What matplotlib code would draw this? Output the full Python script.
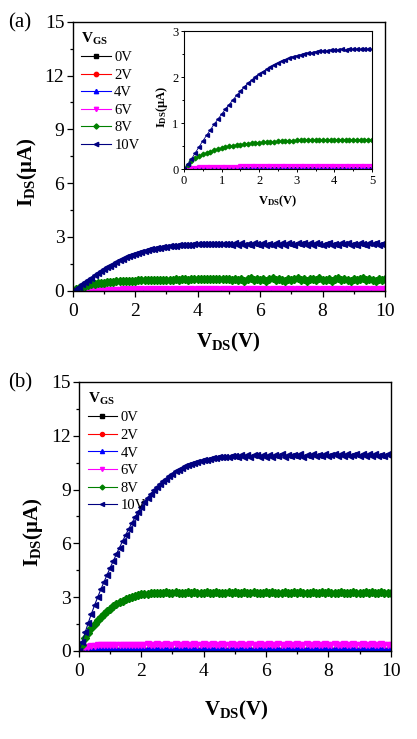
import matplotlib
matplotlib.use('Agg')
import matplotlib.pyplot as plt
from matplotlib.ticker import MultipleLocator

plt.rcParams['font.family'] = 'Liberation Serif'
plt.rcParams['mathtext.fontset'] = 'custom'
plt.rcParams['mathtext.rm'] = 'Liberation Serif'
plt.rcParams['mathtext.bf'] = 'Liberation Serif:bold'
plt.rcParams['mathtext.it'] = 'Liberation Serif:italic'

# drain voltage sweep (V)
vds = [0.0, 0.1, 0.2, 0.3, 0.4, 0.5, 0.6, 0.7, 0.8, 0.9,
       1.0, 1.1, 1.2, 1.3, 1.4, 1.5, 1.6, 1.7, 1.8, 1.9,
       2.0, 2.1, 2.2, 2.3, 2.4, 2.5, 2.6, 2.7, 2.8, 2.9,
       3.0, 3.1, 3.2, 3.3, 3.4, 3.5, 3.6, 3.7, 3.8, 3.9,
       4.0, 4.1, 4.2, 4.3, 4.4, 4.5, 4.6, 4.7, 4.8, 4.9,
       5.0, 5.1, 5.2, 5.3, 5.4, 5.5, 5.6, 5.7, 5.8, 5.9,
       6.0, 6.1, 6.2, 6.3, 6.4, 6.5, 6.6, 6.7, 6.8, 6.9,
       7.0, 7.1, 7.2, 7.3, 7.4, 7.5, 7.6, 7.7, 7.8, 7.9,
       8.0, 8.1, 8.2, 8.3, 8.4, 8.5, 8.6, 8.7, 8.8, 8.9,
       9.0, 9.1, 9.2, 9.3, 9.4, 9.5, 9.6, 9.7, 9.8, 9.9,
       10.0]

gate_labels = ['0V', '2V', '4V', '6V', '8V', '10V']
colors = ['#000000', '#FF0000', '#0000FF', '#FF00FF', '#008000', '#000080']
markers = ['s', 'o', '^', 'v', 'D', '<']

# ---- device (a), I_DS in uA ----
a_0v = [0.00, 0.00, 0.00, 0.00, 0.00, 0.00, 0.00, 0.00, 0.00, 0.00,
        0.00, 0.00, 0.00, 0.00, 0.00, 0.00, 0.00, 0.00, 0.00, 0.00,
        0.00, 0.00, 0.00, 0.00, 0.00, 0.00, 0.00, 0.00, 0.00, 0.00,
        0.00, 0.00, 0.00, 0.00, 0.00, 0.00, 0.00, 0.00, 0.00, 0.00,
        0.00, 0.00, 0.00, 0.00, 0.00, 0.00, 0.00, 0.00, 0.00, 0.00,
        0.00, 0.00, 0.00, 0.00, 0.00, 0.00, 0.00, 0.00, 0.00, 0.00,
        0.00, 0.00, 0.00, 0.00, 0.00, 0.00, 0.00, 0.00, 0.00, 0.00,
        0.00, 0.00, 0.00, 0.00, 0.00, 0.00, 0.00, 0.00, 0.00, 0.00,
        0.00, 0.00, 0.00, 0.00, 0.00, 0.00, 0.00, 0.00, 0.00, 0.00,
        0.00, 0.00, 0.00, 0.00, 0.00, 0.00, 0.00, 0.00, 0.00, 0.00,
        0.00]
a_2v = [0.00, 0.00, 0.01, 0.01, 0.01, 0.01, 0.01, 0.01, 0.01, 0.01,
        0.01, 0.01, 0.01, 0.01, 0.01, 0.01, 0.01, 0.01, 0.01, 0.01,
        0.01, 0.01, 0.01, 0.01, 0.01, 0.01, 0.01, 0.01, 0.01, 0.01,
        0.01, 0.01, 0.01, 0.01, 0.01, 0.01, 0.01, 0.01, 0.01, 0.01,
        0.01, 0.01, 0.01, 0.01, 0.01, 0.01, 0.01, 0.01, 0.01, 0.01,
        0.01, 0.01, 0.01, 0.01, 0.01, 0.01, 0.01, 0.01, 0.01, 0.01,
        0.01, 0.01, 0.01, 0.01, 0.01, 0.01, 0.01, 0.01, 0.01, 0.01,
        0.01, 0.01, 0.01, 0.01, 0.01, 0.01, 0.01, 0.01, 0.01, 0.01,
        0.01, 0.01, 0.01, 0.01, 0.01, 0.01, 0.01, 0.01, 0.01, 0.01,
        0.01, 0.01, 0.01, 0.01, 0.01, 0.01, 0.01, 0.01, 0.01, 0.01,
        0.01]
a_4v = [0.00, 0.01, 0.01, 0.02, 0.02, 0.02, 0.02, 0.02, 0.02, 0.02,
        0.02, 0.02, 0.02, 0.02, 0.02, 0.02, 0.02, 0.02, 0.02, 0.02,
        0.02, 0.02, 0.02, 0.02, 0.02, 0.02, 0.02, 0.02, 0.02, 0.02,
        0.02, 0.02, 0.02, 0.02, 0.02, 0.02, 0.02, 0.02, 0.02, 0.02,
        0.02, 0.02, 0.02, 0.02, 0.02, 0.02, 0.02, 0.02, 0.02, 0.02,
        0.02, 0.02, 0.02, 0.02, 0.02, 0.02, 0.02, 0.02, 0.02, 0.02,
        0.02, 0.02, 0.02, 0.02, 0.02, 0.02, 0.02, 0.02, 0.02, 0.02,
        0.02, 0.02, 0.02, 0.02, 0.02, 0.02, 0.02, 0.02, 0.02, 0.02,
        0.02, 0.02, 0.02, 0.02, 0.02, 0.02, 0.02, 0.02, 0.02, 0.02,
        0.02, 0.02, 0.02, 0.02, 0.02, 0.02, 0.02, 0.02, 0.02, 0.02,
        0.02]
a_6v = [0.00, 0.02, 0.03, 0.03, 0.04, 0.04, 0.04, 0.04, 0.04, 0.04,
        0.04, 0.04, 0.04, 0.04, 0.04, 0.06, 0.07, 0.06, 0.07, 0.06,
        0.07, 0.06, 0.07, 0.06, 0.07, 0.06, 0.07, 0.06, 0.07, 0.06,
        0.07, 0.06, 0.07, 0.06, 0.07, 0.06, 0.07, 0.06, 0.07, 0.06,
        0.07, 0.06, 0.07, 0.06, 0.07, 0.06, 0.07, 0.06, 0.07, 0.06,
        0.07, 0.06, 0.07, 0.06, 0.07, 0.06, 0.07, 0.06, 0.07, 0.06,
        0.07, 0.06, 0.07, 0.06, 0.07, 0.06, 0.07, 0.06, 0.07, 0.06,
        0.07, 0.06, 0.07, 0.06, 0.07, 0.06, 0.07, 0.06, 0.07, 0.06,
        0.07, 0.06, 0.07, 0.06, 0.07, 0.06, 0.07, 0.06, 0.07, 0.06,
        0.07, 0.06, 0.07, 0.06, 0.07, 0.06, 0.07, 0.06, 0.07, 0.06,
        0.07]
a_8v = [0.00, 0.09, 0.17, 0.23, 0.28, 0.32, 0.35, 0.38, 0.41, 0.43,
        0.45, 0.47, 0.49, 0.51, 0.52, 0.53, 0.54, 0.55, 0.56, 0.57,
        0.57, 0.58, 0.58, 0.59, 0.59, 0.60, 0.60, 0.61, 0.61, 0.61,
        0.62, 0.62, 0.62, 0.63, 0.62, 0.63, 0.63, 0.62, 0.63, 0.63,
        0.63, 0.63, 0.64, 0.63, 0.63, 0.64, 0.63, 0.64, 0.64, 0.63,
        0.64, 0.58, 0.68, 0.60, 0.66, 0.57, 0.65, 0.69, 0.58, 0.66,
        0.60, 0.68, 0.57, 0.64, 0.69, 0.59, 0.66, 0.61, 0.57, 0.68,
        0.60, 0.65, 0.69, 0.58, 0.66, 0.57, 0.63, 0.68, 0.60, 0.69,
        0.62, 0.58, 0.66, 0.57, 0.65, 0.69, 0.60, 0.67, 0.62, 0.57,
        0.68, 0.60, 0.65, 0.69, 0.58, 0.66, 0.62, 0.57, 0.68, 0.61,
        0.64]
a_10v = [0.00, 0.10, 0.22, 0.35, 0.48, 0.61, 0.73, 0.85, 0.97, 1.08,
         1.19, 1.30, 1.40, 1.50, 1.60, 1.69, 1.78, 1.86, 1.93, 2.00,
         2.06, 2.12, 2.17, 2.22, 2.27, 2.31, 2.35, 2.38, 2.41, 2.44,
         2.46, 2.48, 2.50, 2.52, 2.53, 2.55, 2.56, 2.57, 2.57, 2.58,
         2.59, 2.59, 2.60, 2.59, 2.60, 2.60, 2.61, 2.60, 2.60, 2.61,
         2.60, 2.55, 2.65, 2.57, 2.66, 2.56, 2.63, 2.54, 2.65, 2.59,
         2.56, 2.66, 2.55, 2.63, 2.57, 2.67, 2.56, 2.64, 2.54, 2.65,
         2.60, 2.55, 2.66, 2.58, 2.64, 2.54, 2.65, 2.57, 2.66, 2.60,
         2.55, 2.63, 2.67, 2.56, 2.62, 2.54, 2.65, 2.58, 2.66, 2.55,
         2.63, 2.56, 2.66, 2.60, 2.54, 2.65, 2.58, 2.64, 2.55, 2.62,
         2.60]

# ---- device (b), I_DS in uA ----
b_0v = [0.00, 0.00, 0.00, 0.00, 0.00, 0.00, 0.00, 0.00, 0.00, 0.00,
        0.00, 0.00, 0.00, 0.00, 0.00, 0.00, 0.00, 0.00, 0.00, 0.00,
        0.00, 0.00, 0.00, 0.00, 0.00, 0.00, 0.00, 0.00, 0.00, 0.00,
        0.00, 0.00, 0.00, 0.00, 0.00, 0.00, 0.00, 0.00, 0.00, 0.00,
        0.00, 0.00, 0.00, 0.00, 0.00, 0.00, 0.00, 0.00, 0.00, 0.00,
        0.00, 0.00, 0.00, 0.00, 0.00, 0.00, 0.00, 0.00, 0.00, 0.00,
        0.00, 0.00, 0.00, 0.00, 0.00, 0.00, 0.00, 0.00, 0.00, 0.00,
        0.00, 0.00, 0.00, 0.00, 0.00, 0.00, 0.00, 0.00, 0.00, 0.00,
        0.00, 0.00, 0.00, 0.00, 0.00, 0.00, 0.00, 0.00, 0.00, 0.00,
        0.00, 0.00, 0.00, 0.00, 0.00, 0.00, 0.00, 0.00, 0.00, 0.00,
        0.00]
b_2v = [0.00, 0.01, 0.02, 0.02, 0.02, 0.02, 0.02, 0.02, 0.02, 0.02,
        0.02, 0.02, 0.02, 0.02, 0.02, 0.02, 0.02, 0.02, 0.02, 0.02,
        0.02, 0.02, 0.02, 0.02, 0.02, 0.02, 0.02, 0.02, 0.02, 0.02,
        0.02, 0.02, 0.02, 0.02, 0.02, 0.02, 0.02, 0.02, 0.02, 0.02,
        0.02, 0.02, 0.02, 0.02, 0.02, 0.02, 0.02, 0.02, 0.02, 0.02,
        0.02, 0.02, 0.02, 0.02, 0.02, 0.02, 0.02, 0.02, 0.02, 0.02,
        0.02, 0.02, 0.02, 0.02, 0.02, 0.02, 0.02, 0.02, 0.02, 0.02,
        0.02, 0.02, 0.02, 0.02, 0.02, 0.02, 0.02, 0.02, 0.02, 0.02,
        0.02, 0.02, 0.02, 0.02, 0.02, 0.02, 0.02, 0.02, 0.02, 0.02,
        0.02, 0.02, 0.02, 0.02, 0.02, 0.02, 0.02, 0.02, 0.02, 0.02,
        0.02]
b_4v = [0.00, 0.05, 0.08, 0.09, 0.10, 0.10, 0.10, 0.10, 0.10, 0.10,
        0.10, 0.10, 0.10, 0.10, 0.10, 0.10, 0.10, 0.10, 0.10, 0.10,
        0.10, 0.10, 0.10, 0.10, 0.10, 0.10, 0.10, 0.10, 0.10, 0.10,
        0.10, 0.10, 0.10, 0.10, 0.10, 0.10, 0.10, 0.10, 0.10, 0.10,
        0.10, 0.10, 0.10, 0.10, 0.10, 0.10, 0.10, 0.10, 0.10, 0.10,
        0.10, 0.10, 0.10, 0.10, 0.10, 0.10, 0.10, 0.10, 0.10, 0.10,
        0.10, 0.10, 0.10, 0.10, 0.10, 0.10, 0.10, 0.10, 0.10, 0.10,
        0.10, 0.10, 0.10, 0.10, 0.10, 0.10, 0.10, 0.10, 0.10, 0.10,
        0.10, 0.10, 0.10, 0.10, 0.10, 0.10, 0.10, 0.10, 0.10, 0.10,
        0.10, 0.10, 0.10, 0.10, 0.10, 0.10, 0.10, 0.10, 0.10, 0.10,
        0.10]
b_6v = [0.00, 0.12, 0.20, 0.25, 0.28, 0.30, 0.31, 0.32, 0.33, 0.33,
        0.34, 0.34, 0.35, 0.34, 0.35, 0.35, 0.36, 0.35, 0.36, 0.35,
        0.36, 0.35, 0.37, 0.35, 0.36, 0.37, 0.35, 0.36, 0.37, 0.35,
        0.36, 0.37, 0.35, 0.36, 0.37, 0.35, 0.36, 0.37, 0.35, 0.36,
        0.37, 0.35, 0.36, 0.37, 0.35, 0.36, 0.37, 0.35, 0.36, 0.37,
        0.35, 0.36, 0.37, 0.35, 0.36, 0.37, 0.35, 0.36, 0.37, 0.35,
        0.36, 0.37, 0.35, 0.36, 0.37, 0.35, 0.36, 0.37, 0.35, 0.36,
        0.37, 0.35, 0.36, 0.37, 0.35, 0.36, 0.37, 0.35, 0.36, 0.37,
        0.35, 0.36, 0.37, 0.35, 0.36, 0.37, 0.35, 0.36, 0.37, 0.35,
        0.36, 0.37, 0.35, 0.36, 0.37, 0.35, 0.36, 0.37, 0.35, 0.36,
        0.36]
b_8v = [0.00, 0.35, 0.72, 1.00, 1.28, 1.50, 1.72, 1.90, 2.06, 2.22,
        2.36, 2.49, 2.61, 2.72, 2.81, 2.89, 2.96, 3.02, 3.07, 3.11,
        3.15, 3.18, 3.20, 3.22, 3.23, 3.24, 3.26, 3.23, 3.27, 3.24,
        3.22, 3.28, 3.23, 3.26, 3.21, 3.27, 3.24, 3.29, 3.22, 3.26,
        3.23, 3.28, 3.21, 3.25, 3.29, 3.22, 3.26, 3.24, 3.28, 3.21,
        3.27, 3.23, 3.26, 3.29, 3.22, 3.25, 3.28, 3.21, 3.26, 3.24,
        3.29, 3.22, 3.27, 3.23, 3.26, 3.21, 3.28, 3.24, 3.22, 3.27,
        3.25, 3.29, 3.22, 3.26, 3.23, 3.28, 3.21, 3.25, 3.27, 3.22,
        3.28, 3.24, 3.21, 3.26, 3.29, 3.23, 3.25, 3.22, 3.28, 3.24,
        3.26, 3.21, 3.27, 3.23, 3.29, 3.22, 3.25, 3.28, 3.23, 3.26,
        3.25]
b_10v = [0.00, 0.50, 1.05, 1.58, 2.08, 2.55, 3.00, 3.43, 3.84, 4.24,
         4.64, 5.02, 5.40, 5.77, 6.13, 6.48, 6.82, 7.15, 7.46, 7.76,
         8.05, 8.32, 8.55, 8.76, 8.95, 9.13, 9.30, 9.46, 9.61, 9.76,
         9.89, 10.02, 10.12, 10.21, 10.29, 10.36, 10.42, 10.48, 10.54, 10.59,
         10.63, 10.67, 10.71, 10.74, 10.77, 10.79, 10.81, 10.82, 10.84, 10.85,
         10.86, 10.80, 10.92, 10.82, 10.93, 10.83, 10.91, 10.95, 10.82, 10.92,
         10.84, 10.94, 10.83, 10.92, 10.86, 10.96, 10.84, 10.93, 10.85, 10.95,
         10.86, 10.97, 10.84, 10.93, 10.87, 10.98, 10.85, 10.94, 10.88, 10.97,
         10.86, 10.95, 10.99, 10.87, 10.96, 10.88, 10.98, 10.86, 10.95, 10.99,
         10.88, 10.97, 10.87, 10.96, 10.89, 10.98, 10.86, 10.95, 10.88, 10.97,
         10.89]

curves_a = [a_0v, a_2v, a_4v, a_6v, a_8v, a_10v]
curves_b = [b_0v, b_2v, b_4v, b_6v, b_8v, b_10v]


def draw_curves(ax, curves, npts, ms, lw):
    for y, c, m, lab in zip(curves, colors, markers, gate_labels):
        size = ms * 0.85 if m == 'D' else ms
        ax.plot(vds[:npts], y[:npts], color=c, marker=m, ms=size,
                mec=c, mfc=c, lw=lw, label=lab)


def style_main(ax, xpad, ypad):
    ax.set_xlim(0, 10)
    ax.set_ylim(0, 15)
    ax.xaxis.set_major_locator(MultipleLocator(2))
    ax.xaxis.set_minor_locator(MultipleLocator(1))
    ax.yaxis.set_major_locator(MultipleLocator(3))
    ax.yaxis.set_minor_locator(MultipleLocator(1.5))
    ax.tick_params(which='both', direction='out', top=False, right=False, width=0.9)
    ax.tick_params(which='major', length=4, labelsize=14)
    ax.tick_params(which='minor', length=2.5)
    ax.tick_params(axis='x', pad=xpad)
    ax.tick_params(axis='y', pad=ypad)
    for s in ax.spines.values():
        s.set_linewidth(1.0)
    leg = ax.legend(loc='upper left', frameon=False, title=r'V$_{\mathbf{GS}}$',
                    fontsize=10.5, title_fontsize=11, handlelength=2.0,
                    handletextpad=0.25, labelspacing=0.3, borderaxespad=0.1,
                    borderpad=0.5, numpoints=1, markerscale=0.65)
    leg.get_title().set_fontweight('bold')
    leg._legend_box.align = 'left'


fig = plt.figure(figsize=(4.17, 7.39), dpi=100)

# ---- panel (a) ----
ax_a = fig.add_axes([0.1743, 0.6066, 0.749, 0.364])
draw_curves(ax_a, curves_a, len(vds), 4.8, 0.8)
style_main(ax_a, 5, 2)
ax_a.set_xlabel(r'V$_{\mathbf{DS}}$(V)', fontsize=15, fontweight='bold')
ax_a.set_ylabel(r'I$_{\mathbf{DS}}$(μA)', fontsize=15, fontweight='bold')
ax_a.xaxis.set_label_coords(0.497, -0.15)
ax_a.yaxis.set_label_coords(-0.108, 0.44)
fig.text(0.019, 0.969, '(a)', fontsize=15, va='center', ha='left')

# inset of (a)
ax_in = fig.add_axes([0.4412, 0.7713, 0.4508, 0.1867])
draw_curves(ax_in, curves_a, 51, 2.8, 0.6)
ax_in.set_xlim(0, 5)
ax_in.set_ylim(0, 3)
ax_in.xaxis.set_major_locator(MultipleLocator(1))
ax_in.xaxis.set_minor_locator(MultipleLocator(0.5))
ax_in.yaxis.set_major_locator(MultipleLocator(1))
ax_in.yaxis.set_minor_locator(MultipleLocator(0.5))
ax_in.tick_params(which='both', direction='out', top=False, right=False, width=0.7)
ax_in.tick_params(which='major', length=2.5, labelsize=9, pad=1.5)
ax_in.tick_params(which='minor', length=1.5)
for s in ax_in.spines.values():
    s.set_linewidth(0.8)
ax_in.set_xlabel(r'V$_{\mathbf{DS}}$(V)', fontsize=9, fontweight='bold')
ax_in.set_ylabel(r'I$_{\mathbf{DS}}$(μA)', fontsize=9, fontweight='bold')
ax_in.xaxis.set_label_coords(0.5, -0.18)
ax_in.yaxis.set_label_coords(-0.075, 0.45)

# ---- panel (b) ----
ax_b = fig.add_axes([0.1894, 0.1191, 0.7475, 0.364])
draw_curves(ax_b, curves_b, len(vds), 4.5, 0.8)
style_main(ax_b, 5, 2)
ax_b.set_xlabel(r'V$_{\mathbf{DS}}$(V)', fontsize=15, fontweight='bold')
ax_b.set_ylabel(r'I$_{\mathbf{DS}}$(μA)', fontsize=15, fontweight='bold')
ax_b.xaxis.set_label_coords(0.504, -0.18)
ax_b.yaxis.set_label_coords(-0.11, 0.44)
fig.text(0.019, 0.482, '(b)', fontsize=15, va='center', ha='left')

fig.savefig('out.png', dpi=100)
